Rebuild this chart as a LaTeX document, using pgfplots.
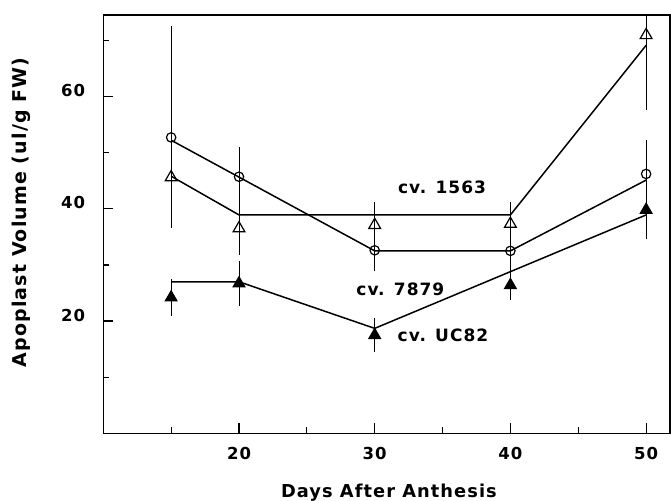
\documentclass[border=0pt]{standalone}
\usepackage{fontspec}
\setmainfont{DejaVu Sans}[LetterSpace=6]
\usepackage{pgfplots}
\pgfplotsset{compat=1.18}
\newcommand\lab{\bfseries\fontsize{17bp}{19bp}\selectfont}
\begin{document}
\begin{tikzpicture}
\begin{axis}[
  scale only axis,
  width=566.7bp, height=418.4bp,
  xmin=10, xmax=51.76, ymin=0, ymax=74.5,
  axis line style={line width=1.3bp},
  xtick={20,30,40,50}, minor xtick={15,25,35,45},
  ytick={20,40,60}, minor ytick={10,30,50,70},
  tick pos=left, tick align=inside,
  major tick length=10bp, minor tick length=6bp,
  every tick/.style={line width=1.2bp, black},
  /pgf/number format/assume math mode=true,
  ticklabel style={font=\bfseries\fontsize{16.5bp}{18bp}\selectfont},
  xticklabel style={anchor=base, yshift=-25.6bp, inner sep=0pt},
  yticklabel style={anchor=base east, xshift=-18bp, inner sep=0pt},
  xlabel={Days After Anthesis},
  ylabel={Apoplast Volume (ul/g FW)},
  xlabel style={font=\bfseries\fontsize{17.8bp}{20bp}\selectfont, at={(axis description cs:0.504,-0.1527)}, anchor=base},
  ylabel style={font=\bfseries\fontsize{19bp}{21bp}\selectfont, at={(axis description cs:-0.1355,0.528)}, anchor=base},
]
% fitted lines
\addplot[black, line width=1.5bp, mark=none] coordinates {(15,45.8) (20,38.9) (40,38.9) (50,69.1)};
\addplot[black, line width=1.5bp, mark=none] coordinates {(15,52.2) (30,32.5) (40,32.5) (50,45.1)};
\addplot[black, line width=1.5bp, mark=none] coordinates {(15,27.0) (20,27.0) (30,18.7) (50,38.9)};
% cv. 7879 (open circles)
\addplot[black, only marks, mark=o, mark size=4.7bp, mark options={line width=1.2bp},
  error bars/.cd, y dir=both, y explicit, error mark=none,
  error bar style={line width=1bp, black}]
  coordinates {
  (15,52.7) += (0,19.8) -= (0,10)
  (20,45.7) +- (0,5.3)
  (30,32.6) +- (0,3.6)
  (40,32.5) +- (0,3.5)
  (50,46.2) +- (0,6.0)
  };
% cv. 1563 (open triangles)
\addplot[black, only marks, mark=triangle, mark size=6.8bp, mark options={line width=1.2bp},
  error bars/.cd, y dir=both, y explicit, error mark=none,
  error bar style={line width=1bp, black}]
  coordinates {
  (15,45.6) +- (0,9.1)
  (20,36.5) +- (0,4.8)
  (30,37.1) +- (0,4.1)
  (40,37.3) +- (0,3.9)
  (50,70.9) +- (0,13.3)
  };
% cv. UC82 (filled triangles)
\addplot[black, only marks, mark=triangle*, mark size=6.8bp, mark options={line width=1bp, fill=black},
  error bars/.cd, y dir=both, y explicit, error mark=none,
  error bar style={line width=1bp, black}]
  coordinates {
  (15,24.2) +- (0,3.3)
  (20,26.7) +- (0,4.0)
  (30,17.5) +- (0,3.0)
  (40,26.4) +- (0,2.7)
  (50,39.8) +- (0,5.1)
  };
\node[font=\lab, anchor=base] at (axis cs:34.96,42.8) {cv. 1563};
\node[font=\lab, anchor=base] at (axis cs:31.89,24.6) {cv. 7879};
\node[font=\lab, anchor=base] at (axis cs:35.03,16.3) {cv. UC82};
\coordinate (SW) at (rel axis cs:0,0);
\coordinate (NE) at (rel axis cs:1,1);
\end{axis}
\pgfresetboundingbox
\path ([shift={(-103.3bp,-67.6bp)}]SW) rectangle ([shift={(1bp,15bp)}]NE);
\end{tikzpicture}
\end{document}
